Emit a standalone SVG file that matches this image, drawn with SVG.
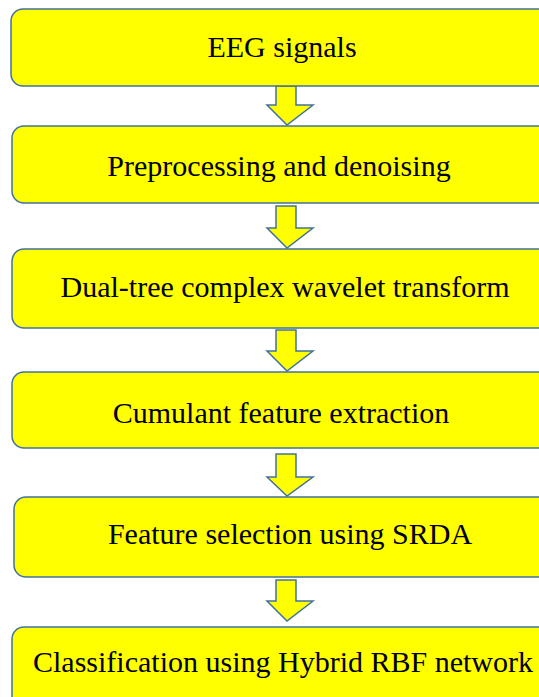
<svg xmlns="http://www.w3.org/2000/svg" width="539" height="697" viewBox="0 0 539 697">
<style>
.box{fill:#FFFF00;stroke:#41719C;stroke-width:1.5}
.arr{fill:#FFFF00;stroke:#41719C;stroke-width:1.5;stroke-linejoin:miter}
.t{font-family:"Liberation Serif","Times New Roman",serif;font-size:30px;fill:#000;text-anchor:middle}
</style>
<rect width="539" height="697" fill="#fff"/>
<g id="connectors">
<path class="arr" d="M276,86 V105 H267 L287,125 L313,105 H296 V86 Z"/>
<path class="arr" d="M276,206 V228 H267 L287,248 L313,228 H296 V206 Z"/>
<path class="arr" d="M276,330 V351 H267 L287,371 L313,351 H296 V330 Z"/>
<path class="arr" d="M276,454 V477 H267 L287,496 L313,477 H296 V454 Z"/>
<path class="arr" d="M276,580 V601 H267 L287,621 L313,601 H296 V580 Z"/>
</g>
<g id="n1"><rect class="box" x="11" y="9" width="560" height="77" rx="12"/><text class="t" x="282" y="57">EEG signals</text></g>
<g id="n2"><rect class="box" x="12" y="126" width="560" height="77" rx="12"/><text class="t" x="279" y="176">Preprocessing and denoising</text></g>
<g id="n3"><rect class="box" x="12" y="249" width="560" height="79" rx="12"/><text class="t" x="285" y="297">Dual-tree complex wavelet transform</text></g>
<g id="n4"><rect class="box" x="12" y="372" width="560" height="76" rx="12"/><text class="t" x="281" y="423">Cumulant feature extraction</text></g>
<g id="n5"><rect class="box" x="14" y="497" width="560" height="80" rx="12"/><text class="t" x="290" y="544">Feature selection using SRDA</text></g>
<g id="n6"><rect class="box" x="12" y="627" width="560" height="90" rx="12"/><text class="t" x="283" y="672">Classification using Hybrid RBF network</text></g>
</svg>
